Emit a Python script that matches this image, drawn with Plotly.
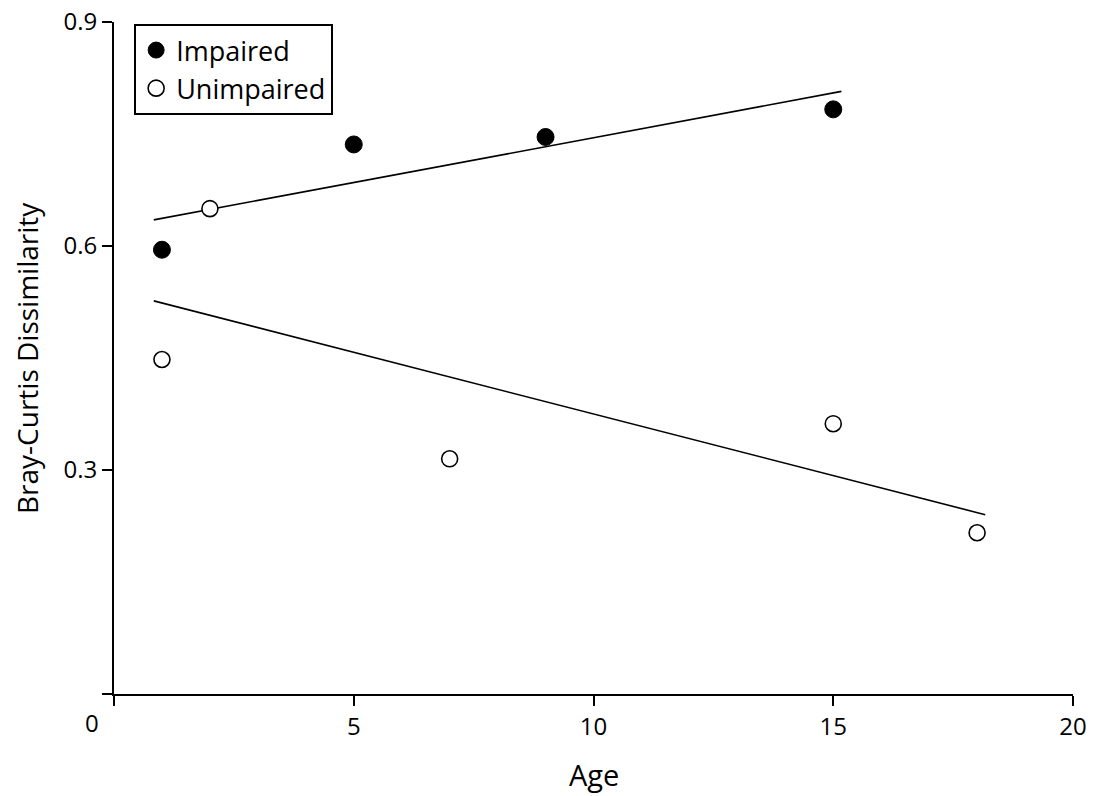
import numpy as np
import plotly.graph_objects as go

# Bray-Curtis dissimilarity by age
impaired_age = [1, 5, 9, 15]
impaired_bc = [0.595, 0.736, 0.746, 0.783]

unimpaired_age = [2, 1, 7, 15, 18]
unimpaired_bc = [0.650, 0.448, 0.315, 0.362, 0.216]

x_ticks = [0, 5, 10, 15, 20]
x_tick_text = ["", "5", "10", "15", "20"]
y_ticks = [0, 0.3, 0.6, 0.9]
y_tick_text = ["", "0.3", "0.6", "0.9"]

FONT = "Open Sans"
TICK_SIZE = 24


def fit_line(xs, ys, pad=0.17):
    slope, intercept = np.polyfit(xs, ys, 1)
    x_end = np.array([min(xs) - pad, max(xs) + pad])
    return x_end, slope * x_end + intercept


fig = go.Figure()

for xs, ys in [(impaired_age, impaired_bc), (unimpaired_age, unimpaired_bc)]:
    lx, ly = fit_line(xs, ys)
    fig.add_trace(go.Scatter(x=lx, y=ly, mode="lines", showlegend=False,
                             line=dict(color="black", width=1.6), hoverinfo="skip"))

fig.add_trace(go.Scatter(
    x=impaired_age, y=impaired_bc, mode="markers", name="Impaired",
    marker=dict(color="black", size=17, line=dict(color="black", width=1)),
))
fig.add_trace(go.Scatter(
    x=unimpaired_age, y=unimpaired_bc, mode="markers", name="Unimpaired",
    marker=dict(color="white", size=16, line=dict(color="black", width=1.6)),
))

# origin label sits left of the axis corner
fig.add_annotation(x=0, y=0, xref="x", yref="y", text="0", showarrow=False,
                   xshift=-22, yshift=-28, font=dict(family=FONT, size=TICK_SIZE, color="black"))

# axis titles
fig.add_annotation(x=0.5, y=-0.1205, xref="paper", yref="paper", text="Age",
                   showarrow=False, xanchor="center", yanchor="middle",
                   font=dict(family=FONT, size=29, color="black"))
fig.add_annotation(x=-0.0907, y=0.5, xref="paper", yref="paper", text="Bray-Curtis Dissimilarity",
                   showarrow=False, textangle=-90, xanchor="center", yanchor="middle",
                   font=dict(family=FONT, size=28, color="black"))

fig.update_layout(
    width=1094, height=796,
    margin=dict(l=114, r=21, t=22, b=102, autoexpand=False),
    paper_bgcolor="white", plot_bgcolor="white",
    font=dict(family=FONT, size=TICK_SIZE, color="black"),
    showlegend=True,
    legend=dict(
        x=0.021, y=0.997, xanchor="left", yanchor="top",
        bordercolor="black", borderwidth=2, bgcolor="white",
        font=dict(family=FONT, size=27, color="black"),
        itemwidth=30, tracegroupgap=0,
    ),
)

fig.update_xaxes(
    range=[0, 20], tickvals=x_ticks, ticktext=x_tick_text,
    showgrid=False, zeroline=False, showline=True, linecolor="black", linewidth=2,
    ticks="outside", ticklen=10, tickwidth=2, tickcolor="black",
    tickfont=dict(family=FONT, size=TICK_SIZE), automargin=False,
)
fig.update_yaxes(
    range=[0, 0.9], tickvals=y_ticks, ticktext=y_tick_text,
    showgrid=False, zeroline=False, showline=True, linecolor="black", linewidth=2,
    ticks="outside", ticklen=10, tickwidth=2, tickcolor="black",
    tickfont=dict(family=FONT, size=TICK_SIZE), automargin=False,
)

fig.write_html("out.html")
